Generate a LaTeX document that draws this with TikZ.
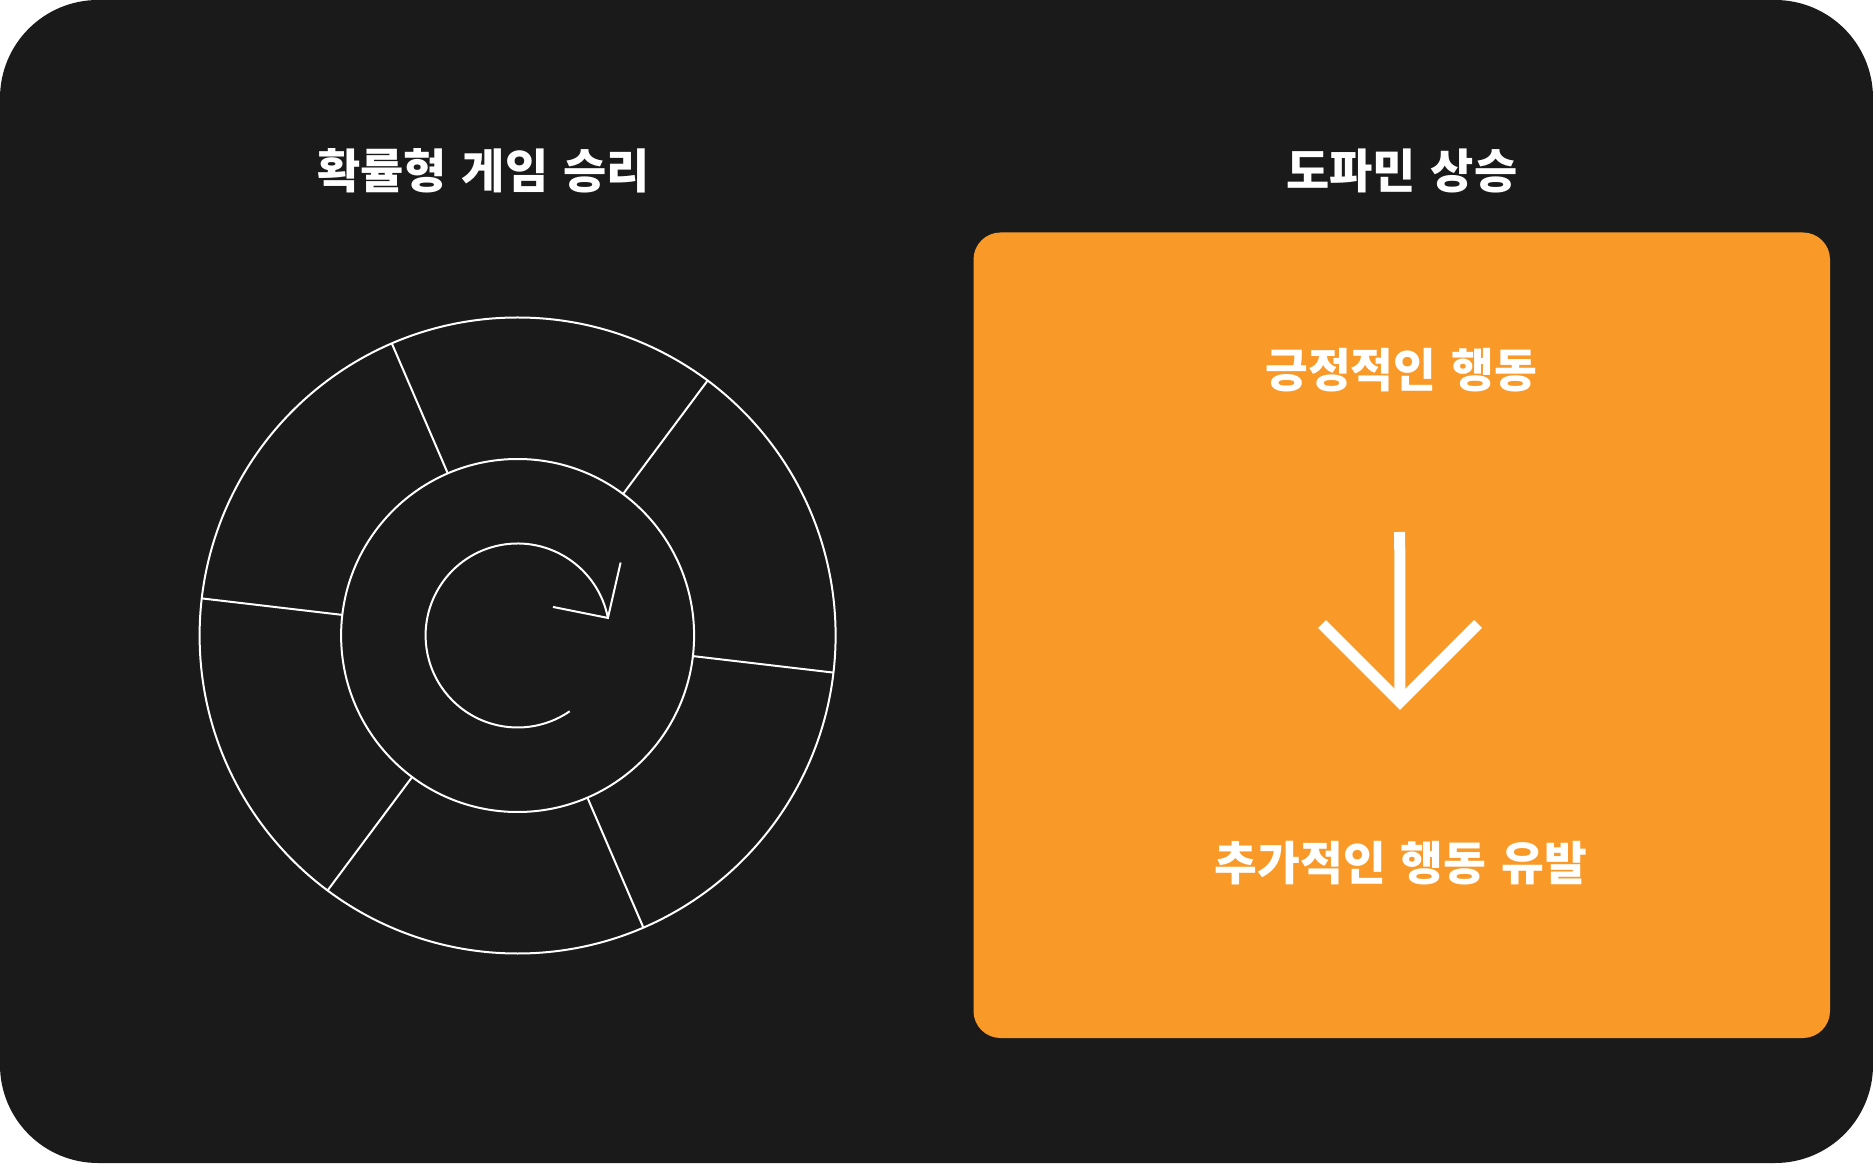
\documentclass[tikz,border=0pt]{standalone}
\usepackage{fontspec}
\usetikzlibrary{calc}
\newfontfamily\kr{Noto Sans CJK KR}[WordSpace=1.4]
\definecolor{bgdark}{HTML}{1B1A1B}
\definecolor{boxorange}{HTML}{F99A28}
\tikzset{
  wheelline/.style={draw=white, line width=2pt},
  title/.style={text=white, font=\kr\bfseries\fontsize{47}{51}\selectfont, inner sep=0pt, anchor=center},
  boxtext/.style={text=white, font=\kr\bfseries\fontsize{46.5}{50}\selectfont, inner sep=0pt, anchor=center},
  bigarrow/.style={draw=white, line width=11pt}
}
\begin{document}
\begin{tikzpicture}[x=1pt,y=1pt]
\useasboundingbox (0,0) rectangle (1873,1163);
\fill[bgdark, rounded corners=98pt] (0,0) rectangle (1873,1163);
% titles
\node[title] (t1) at (483.5,992) {확률형 게임 승리};
\node[title] (t2) at (1401.7,992) {도파민 상승};
% orange box
\fill[boxorange, rounded corners=27pt] (973.5,125) rectangle (1830,930.5);
\node[boxtext] (b1) at (1401,792.5) {긍정적인 행동};
\node[boxtext] (b2) at (1401,299.5) {추가적인 행동 유발};
% big arrow
\coordinate (atop) at (1399.7,631);
\coordinate (atip) at (1400,461);
\coordinate (aleft) at (1322,539);
\coordinate (aright) at (1478,539);
\draw[bigarrow] (atop) -- (atip);
\draw[bigarrow, miter limit=10] (aleft) -- (atip) -- (aright);
% wheel
\coordinate (wc) at (517.6,527.5);
\draw[wheelline] (wc) circle[radius=318];
\draw[wheelline] (wc) circle[radius=176.5];
\foreach \a in {113.3,53.3,-6.7,-66.7,-126.7,173.3}{
  \draw[wheelline] ($(wc)+(\a:176.5)$) -- ($(wc)+(\a:318)$);
}
% circular arrow
\draw[wheelline] ($(wc)+(11:92)$) coordinate (ctip) arc[start angle=11, end angle=304.5, radius=92];
\draw[wheelline] ($(ctip)+(-55,11)$) -- (ctip) -- ($(ctip)+(12.7,55.4)$);
\end{tikzpicture}
\end{document}
